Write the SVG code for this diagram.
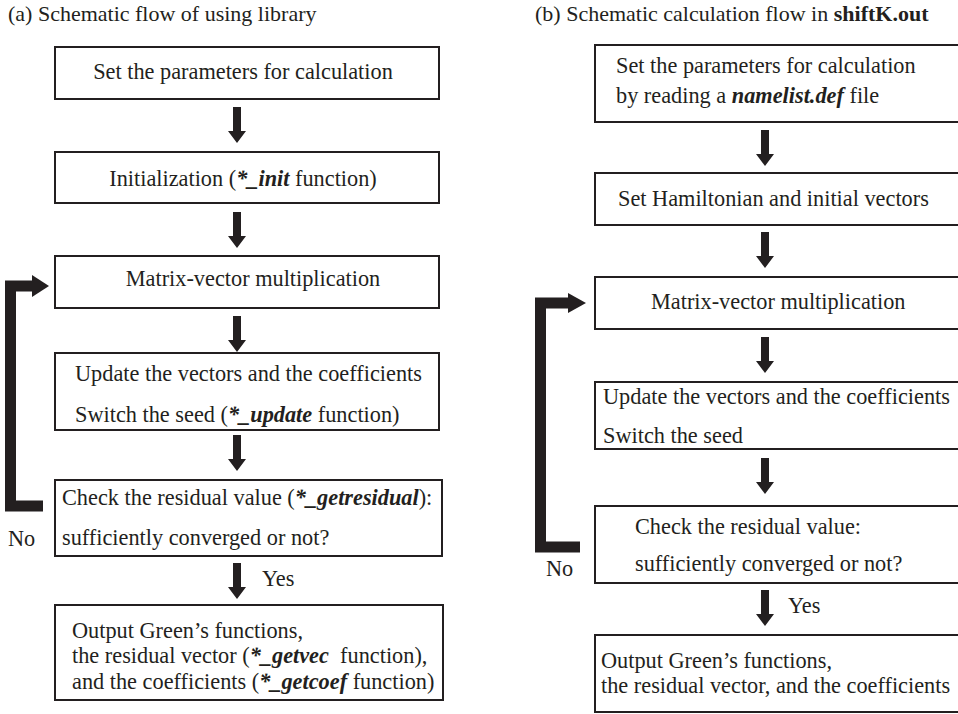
<svg xmlns="http://www.w3.org/2000/svg" width="958" height="714" viewBox="0 0 958 714">
<style>
text{font-family:"Liberation Serif","Times New Roman",serif;font-size:22.3px;fill:#231f20}
.t{font-size:22px}
.c{text-anchor:middle}
.bi{font-weight:bold;font-style:italic}
.b{font-weight:bold}
.box{fill:#fff;stroke:#231f20;stroke-width:2}
.loop{fill:none;stroke:#231f20;stroke-width:11;stroke-linejoin:miter}
.ah{fill:#231f20}
</style>
<defs>
<path id="dn" d="M-4,0 H4 V24 H9 L0,36 L-9,24 H-4 Z" fill="#231f20"/>
</defs>
<rect width="958" height="714" fill="#fff"/>

<text id="title-a" x="8" y="21" class="t">(a) Schematic flow of using library</text>
<text id="title-b" x="535" y="21" class="t">(b) Schematic calculation flow in <tspan class="b">shiftK.out</tspan></text>

<g id="a1"><rect class="box" x="55" y="47" width="384" height="52"/><text x="243" y="79" class="c">Set the parameters for calculation</text></g>
<g id="a2"><rect class="box" x="55" y="152" width="384" height="51"/><text x="243" y="186" class="c">Initialization (<tspan class="bi">*_init</tspan> function)</text></g>
<g id="a3"><rect class="box" x="55" y="256" width="384" height="52"/><text x="253" y="286" class="c">Matrix-vector multiplication</text></g>
<g id="a4"><rect class="box" x="55" y="353" width="384" height="77"/><text x="75" y="381">Update the vectors and the coefficients</text><text x="75" y="422">Switch the seed (<tspan class="bi">*_update</tspan> function)</text></g>
<g id="a5"><rect class="box" x="55" y="480" width="387" height="76"/><text x="62" y="505">Check the residual value (<tspan class="bi">*_getresidual</tspan>):</text><text x="62" y="545">sufficiently converged or not?</text></g>
<g id="a6"><rect class="box" x="55" y="605" width="388" height="95"/><text x="72" y="638">Output Green’s functions,</text><text x="72" y="663">the residual vector (<tspan class="bi">*_getvec</tspan>&#160; function),</text><text x="72" y="689">and the coefficients (<tspan class="bi">*_getcoef</tspan> function)</text></g>

<g id="b1"><rect class="box" x="595" y="45" width="380" height="77"/><text x="616" y="73">Set the parameters for calculation</text><text x="616" y="103">by reading a <tspan class="bi">namelist.def</tspan> file</text></g>
<g id="b2"><rect class="box" x="595" y="173" width="380" height="52"/><text x="618" y="206">Set Hamiltonian and initial vectors</text></g>
<g id="b3"><rect class="box" x="595" y="277" width="380" height="52"/><text x="651" y="309">Matrix-vector multiplication</text></g>
<g id="b4"><rect class="box" x="595" y="382" width="380" height="67"/><text x="603" y="404">Update the vectors and the coefficients</text><text x="603" y="443">Switch the seed</text></g>
<g id="b5"><rect class="box" x="595" y="506" width="380" height="77"/><text x="635" y="534">Check the residual value:</text><text x="635" y="571">sufficiently converged or not?</text></g>
<g id="b6"><rect class="box" x="595" y="635" width="380" height="77"/><text x="601" y="668">Output Green’s functions,</text><text x="601" y="693">the residual vector, and the coefficients</text></g>

<g id="connectors">
<use href="#dn" x="237" y="107"/>
<use href="#dn" x="237" y="212"/>
<use href="#dn" x="237" y="316"/>
<use href="#dn" x="237" y="435"/>
<use href="#dn" x="237" y="563"/>
<use href="#dn" x="765" y="130"/>
<use href="#dn" x="765" y="232"/>
<use href="#dn" x="765" y="337"/>
<use href="#dn" x="765" y="458"/>
<use href="#dn" x="765" y="590"/>
<path class="loop" d="M43,506 H10.5 V286 H33"/>
<path class="ah" d="M32,275 L49,286 L32,297 Z"/>
<path class="loop" d="M580,547 H540.5 V303 H569"/>
<path class="ah" d="M568,293 L586,303 L568,313 Z"/>
<text x="8" y="546">No</text>
<text x="262" y="586">Yes</text>
<text x="546" y="576">No</text>
<text x="788" y="613">Yes</text>
</g>
</svg>
